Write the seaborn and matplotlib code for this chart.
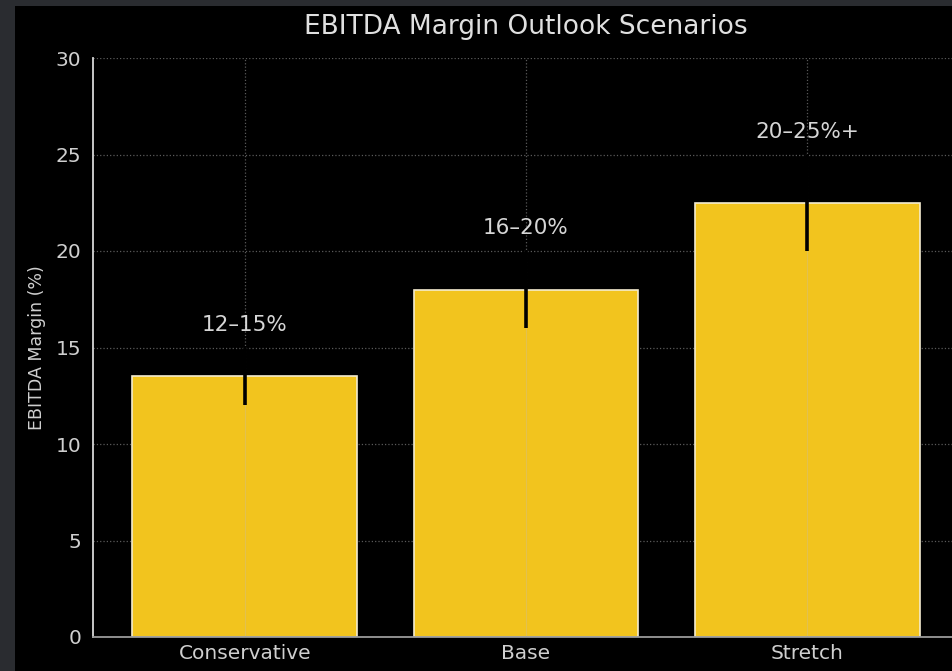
import matplotlib
matplotlib.use("Agg")
import matplotlib.pyplot as plt
from matplotlib.patches import Rectangle
import seaborn as sns
import pandas as pd

scenarios = ["Conservative", "Base", "Stretch"]
margins = [13.5, 18.0, 22.5]
errors = [1.5, 2.0, 2.5]
range_labels = ["12\u201315%", "16\u201320%", "20\u201325%+"]

df = pd.DataFrame({"Scenario": scenarios, "Margin": margins})

sns.set_theme(style="dark")
plt.rcParams["font.family"] = ["DejaVu Sans"]

fig = plt.figure(figsize=(9.52, 6.71), dpi=100, facecolor="#2a2c30")
fig.patches.append(Rectangle((15 / 952, 0), 1, 1 - 6 / 671, transform=fig.transFigure,
                             facecolor="black", edgecolor="none", zorder=-10))
ax = fig.add_axes([93 / 952, 1 - 637 / 671, (959 - 93) / 952, (637 - 58) / 671])
ax.set_zorder(5)
ax.set_facecolor("black")

sns.barplot(data=df, x="Scenario", y="Margin", color="#F2C41E", saturation=1,
            edgecolor="#f4ecd0", linewidth=1.2, width=0.8, ax=ax, zorder=2)
# faint vertical grid visible through the bars
ax.vlines(range(len(scenarios)), 0, margins, colors="#d8c070", linewidth=0.8,
          alpha=0.6, zorder=2.5)
ax.errorbar(range(len(scenarios)), margins, yerr=errors, fmt="none",
            ecolor="black", elinewidth=2.6, capsize=0, zorder=3)

for i, (m, e, lab) in enumerate(zip(margins, errors, range_labels)):
    ax.text(i, m + e + 0.65, lab, ha="center", va="bottom", color="#d6d6d6", fontsize=15.5)

ax.set_ylim(0, 30)
ax.set_xlim(-0.54, 2.54)
ax.set_yticks([0, 5, 10, 15, 20, 25, 30])
ax.set_xlabel("")
ax.set_ylabel("EBITDA Margin (%)", color="#cfcfcf", fontsize=12.5, labelpad=7)
ax.set_title("EBITDA Margin Outlook Scenarios", color="#e0e0e0", fontsize=19, pad=17)

ax.grid(True, color="#5a5a5a", linestyle=":", linewidth=0.9)
ax.set_axisbelow(True)
ax.tick_params(axis="y", colors="#cfcfcf", labelsize=14.5, length=5, width=1, color="#cfcfcf")
ax.tick_params(axis="x", colors="#cfcfcf", labelsize=14.5, length=0, pad=5)

for s in ["top", "right"]:
    ax.spines[s].set_visible(False)
ax.spines["left"].set_color("#d8d8d8")
ax.spines["left"].set_linewidth(1.3)
ax.spines["bottom"].set_color("#9a9a9a")
ax.spines["bottom"].set_linewidth(1.3)

fig.savefig("out.png", dpi=100, facecolor=fig.get_facecolor())
